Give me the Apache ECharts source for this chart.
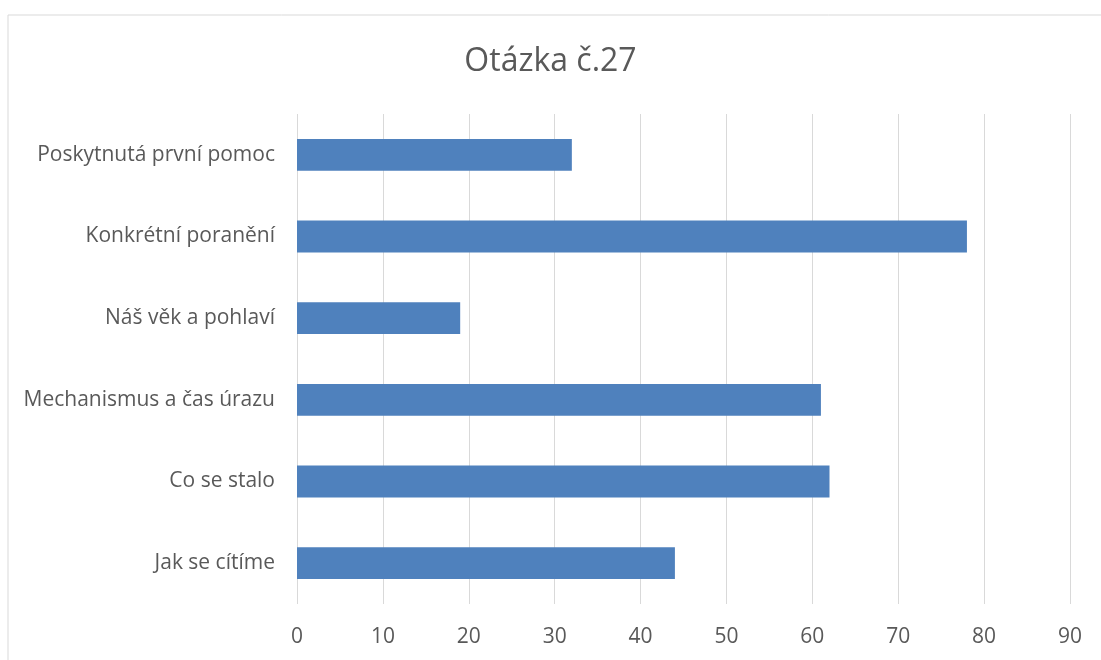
<!DOCTYPE html>
<html>
<head>
<meta charset="utf-8">
<script src="https://cdn.jsdelivr.net/npm/echarts@6/dist/echarts.min.js"></script>
<style>html,body{margin:0;padding:0;background:#fff}#c{width:1101px;height:660px}</style>
</head>
<body>
<div id="c"></div>
<script>
const title = "Otázka č.27";
const categories = ["Jak se cítíme", "Co se stalo", "Mechanismus a čas úrazu", "Náš věk a pohlaví", "Konkrétní poranění", "Poskytnutá první pomoc"];
const values = [44, 62, 61, 19, 78, 32];
const xTicks = { min: 0, max: 90, interval: 10 };

const FONT = "'Open Sans', sans-serif";
const chart = echarts.init(document.getElementById('c'), null, { renderer: 'canvas' });
chart.setOption({
  backgroundColor: '#fff',
  animation: false,
  title: {
    text: title, left: 'center', top: 41,
    textStyle: { fontFamily: FONT, fontSize: 32, fontWeight: 'normal', color: '#595959' }
  },
  graphic: [{
    type: 'rect', shape: { x: 8, y: 15, width: 1200, height: 700 },
    style: { fill: 'none', stroke: '#d9d9d9', lineWidth: 1 }, silent: true
  }],
  grid: { left: 297, right: 31, top: 114, bottom: 56, containLabel: false },
  xAxis: {
    type: 'value', min: xTicks.min, max: xTicks.max, interval: xTicks.interval,
    axisLine: { show: false }, axisTick: { show: false },
    splitLine: { show: true, lineStyle: { color: '#d9d9d9', width: 1 } },
    axisLabel: { color: '#595959', fontFamily: FONT, fontSize: 21, margin: 23 }
  },
  yAxis: {
    type: 'category', data: categories,
    axisLine: { show: false }, axisTick: { show: false },
    axisLabel: { color: '#595959', fontFamily: FONT, fontSize: 21, margin: 22 }
  },
  series: [{
    type: 'bar', data: values, barWidth: '39%',
    itemStyle: { color: '#4f81bd' }
  }]
});
</script>
</body>
</html>
